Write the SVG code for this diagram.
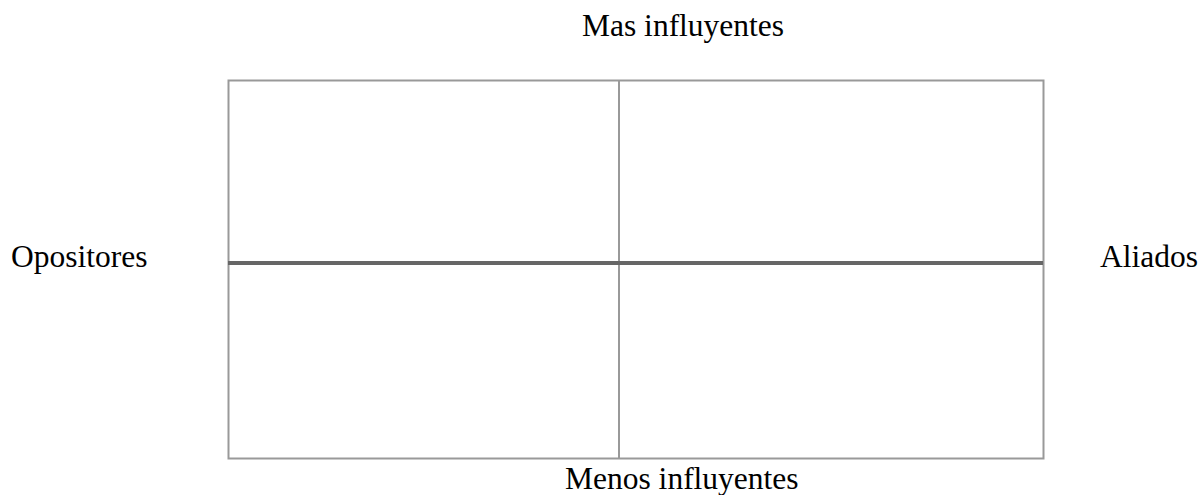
<svg xmlns="http://www.w3.org/2000/svg" width="1199" height="495" viewBox="0 0 1199 495">
<style>
.lbl{font-family:"Liberation Serif","Times New Roman",serif;font-size:31.5px;fill:#000}
.thin{stroke:#999;stroke-width:2;fill:none}
.thick{stroke:#666;stroke-width:4;fill:none}
</style>
<rect width="1199" height="495" fill="#fff"/>
<g id="grid">
<rect class="thin" x="228.5" y="80.5" width="815" height="378"/>
<line class="thin" x1="619" y1="80.5" x2="619" y2="458.5"/>
</g>
<g id="connectors">
<line class="thick" x1="228" y1="263" x2="1043" y2="263"/>
</g>
<g id="label-top"><text class="lbl" x="582" y="36">Mas influyentes</text></g>
<g id="label-bottom"><text class="lbl" x="565" y="489">Menos influyentes</text></g>
<g id="label-left"><text class="lbl" x="11" y="267">Opositores</text></g>
<g id="label-right"><text class="lbl" x="1100" y="267">Aliados</text></g>
</svg>
